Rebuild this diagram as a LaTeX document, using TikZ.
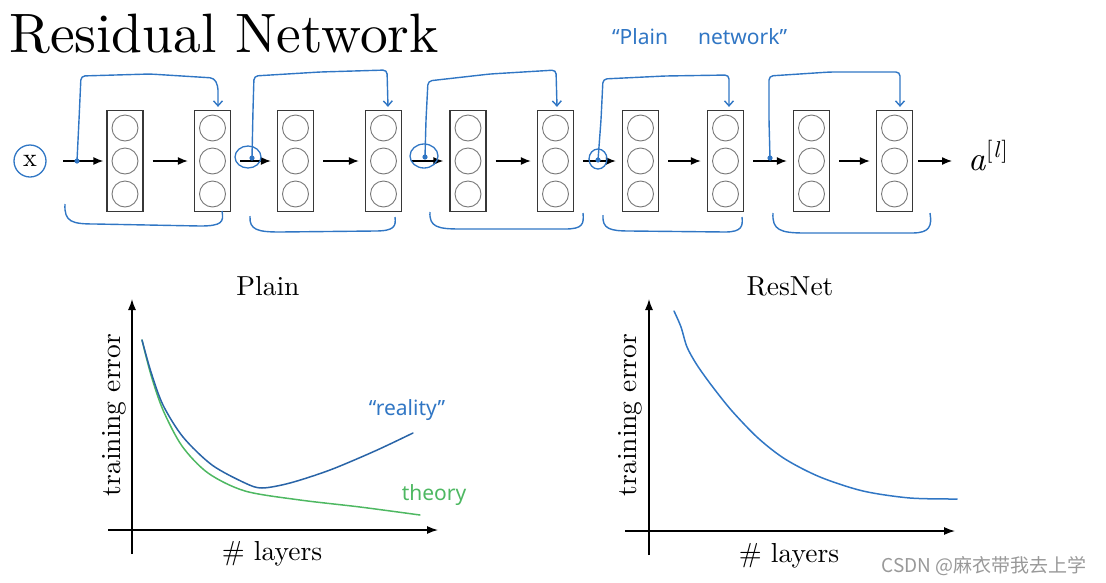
\documentclass[tikz,border=0pt]{standalone}
\usepackage{fontspec}
\newfontfamily\cjk{Noto Sans CJK SC}
\newfontfamily\hand{Noto Sans}
\newfontfamily\lmten{lmroman10-regular.otf}[ItalicFont=lmroman10-italic.otf]
\usetikzlibrary{arrows.meta,calc}
\definecolor{pen}{RGB}{48,118,196}
\definecolor{greenpen}{RGB}{78,184,98}
\definecolor{boxgray}{RGB}{55,55,55}
\definecolor{unitgray}{RGB}{120,120,120}
\begin{document}
\begin{tikzpicture}[x=1pt,y=-1pt,
  layerbox/.style={draw=boxgray, line width=1.3pt, minimum width=36pt, minimum height=101pt, inner sep=0pt},
  unit/.style={draw=unitgray, line width=0.9pt, circle, minimum size=26pt, inner sep=0pt},
  flow/.style={-{Latex[length=10pt,width=8pt]}, line width=1.3pt, black},
  axis/.style={-{Latex[length=11pt,width=8pt]}, line width=1.3pt, black},
  skip/.style={draw=pen, line width=1.4pt, rounded corners=4pt, -{Straight Barb[length=5pt,width=9pt]}},
  brace/.style={draw=pen, line width=1.4pt},
  ring/.style={draw=pen, line width=1.3pt},
  lbl/.style={font=\lmten\fontsize{27.5}{30}\selectfont, inner sep=0pt},
  curve/.style={line width=1.5pt, smooth, line cap=round, line join=round}]
\useasboundingbox (0,0) rectangle (1106,582);

% title
\node[anchor=base west, inner sep=0pt, font=\lmten\fontsize{55.5}{60}\selectfont] (title) at (9,52) {Residual Network};
\node[anchor=base west, inner sep=0pt, text=pen, font=\hand\fontsize{21}{24}\selectfont] (plainnet) at (612,44) {“Plain\hspace{30pt}network”};

% layers
\foreach \i/\x in {1/125,2/212.5,3/295.5,4/383.5,5/468,6/555.5,7/640.5,8/725.5,9/811.5,10/894.5}{
  \node[layerbox] (b\i) at (\x,161) {};
  \node[unit] (u\i a) at (\x,128) {};
  \node[unit] (u\i b) at (\x,161) {};
  \node[unit] (u\i c) at (\x,194) {};
}

% input and output
\node[circle, ring, minimum size=32pt, inner sep=0pt, font=\lmten\fontsize{26}{28}\selectfont] (x) at (30,161) {x};
\coordinate (xin) at (63,161);
\draw[flow, shorten >=3pt] (xin) -- (b1);
\node[anchor=base west, inner sep=0pt, font=\lmten\fontsize{34}{36}\selectfont] (out) at (968,170) {\textit{a}\raisebox{13pt}{\fontsize{23}{25}\selectfont[\kern1pt\textit{l}\kern1pt]}};
\draw[flow, shorten <=5pt] (b10.east) -- (952,161);

% main flow arrows
\foreach \a/\b in {1/2,2/3,3/4,4/5,5/6,6/7,7/8,8/9,9/10}{
  \draw[flow, shorten <=9pt, shorten >=6pt] (b\a) -- (b\b);
}

% skip connections
\coordinate (s1) at (77,161);
\coordinate (s2) at (252,158);
\coordinate (s3) at (425,157);
\coordinate (s4) at (598,160);
\coordinate (s5) at (770,158);
\foreach \s in {1,...,5}{\fill[pen] (s\s) circle (2.6pt);}
\draw[skip] (s1) -- (79,120) -- (81,76) -- (150,74) -- (214,78) -- (218,86) -- ($(b2.north)+(5.5,-3)$);
\draw[skip] (s2) -- (253,110) -- (254,76) -- (320,72) -- (387,70) -- ($(b4.north)+(4.5,-3)$);
\draw[skip] (s3) -- (426,120) -- (428,81) -- (490,74) -- (556,70) -- ($(b6.north)+(1.5,-3)$);
\draw[skip] (s4) -- (601,120) -- (603,79) -- (665,76) -- (729,75) -- ($(b8.north)+(3.5,-3)$);
\draw[skip] (s5) -- (769,120) -- (769,76) -- (830,72) -- (900,72) -- ($(b10.north)+(5.5,-3)$);

% rings around addition points
\draw[ring] (248,157) ellipse (13pt and 11pt);
\draw[ring] (424,156) ellipse (14pt and 12pt);
\draw[ring] (598,159) ellipse (9pt and 10pt);

% braces below blocks
\draw[brace] (65,204) .. controls (64,222) and (72,224) .. (95,224) -- (200,226) .. controls (222,226) and (224,222) .. (222,211);
\draw[brace] (250,216) .. controls (249,230) and (258,232) .. (280,232) -- (375,231) .. controls (395,231) and (396,226) .. (395,217);
\draw[brace] (430,212) .. controls (429,227) and (438,229) .. (460,229) -- (565,229) .. controls (583,229) and (584,224) .. (583,213);
\draw[brace] (603,215) .. controls (602,229) and (610,231) .. (630,231) -- (725,232) .. controls (742,232) and (743,226) .. (742,217);
\draw[brace] (773,213) .. controls (772,230) and (780,233) .. (805,233) -- (912,233) .. controls (930,233) and (932,226) .. (930,213);

% Plain plot
\node[lbl, anchor=base] (ptitle) at (268,295) {Plain};
\coordinate (pxa) at (108,530);
\coordinate (pxb) at (438,530);
\coordinate (pya) at (132,554);
\coordinate (pyb) at (132,299);
\draw[axis] (pxa) -- (pxb);
\draw[axis] (pya) -- (pyb);
\node[lbl, anchor=base] (pxl) at (272,560) {\# layers};
\node[lbl, rotate=90] (pyl) at (114,415) {training error};
\draw[curve, draw=greenpen] plot coordinates {(142,340) (151,375) (163,410) (182,446) (208,473) (245,491) (300,500) (360,507) (420,515)};
\draw[curve, draw=pen!85!black] plot coordinates {(142,340) (151,372) (163,405) (183,437) (212,465) (245,483) (262,488) (290,483) (330,470) (375,451) (413,433)};
\node[text=pen, inner sep=0pt, font=\hand\fontsize{21}{23}\selectfont] (real) at (407,410) {“reality”};
\node[text=greenpen, inner sep=0pt, font=\hand\fontsize{21}{23}\selectfont] (theo) at (434,495) {theory};

% ResNet plot
\node[lbl, anchor=base] (rtitle) at (790,295) {ResNet};
\coordinate (rxa) at (625,531);
\coordinate (rxb) at (955,531);
\coordinate (rya) at (649,555);
\coordinate (ryb) at (649,299);
\draw[axis] (rxa) -- (rxb);
\draw[axis] (rya) -- (ryb);
\node[lbl, anchor=base] (rxl) at (789,562) {\# layers};
\node[lbl, rotate=90] (ryl) at (630,415) {training error};
\draw[curve, draw=pen] plot coordinates {(674,311) (681,327) (687,347) (697,365) (712,386) (732,411) (758,438) (785,459) (820,477) (863,491) (910,498) (957,499)};

% watermark
\node[text=gray!80, inner sep=0pt, font=\cjk\fontsize{19}{21}\selectfont] (wm) at (984,566) {CSDN @麻衣带我去上学};
\end{tikzpicture}
\end{document}
